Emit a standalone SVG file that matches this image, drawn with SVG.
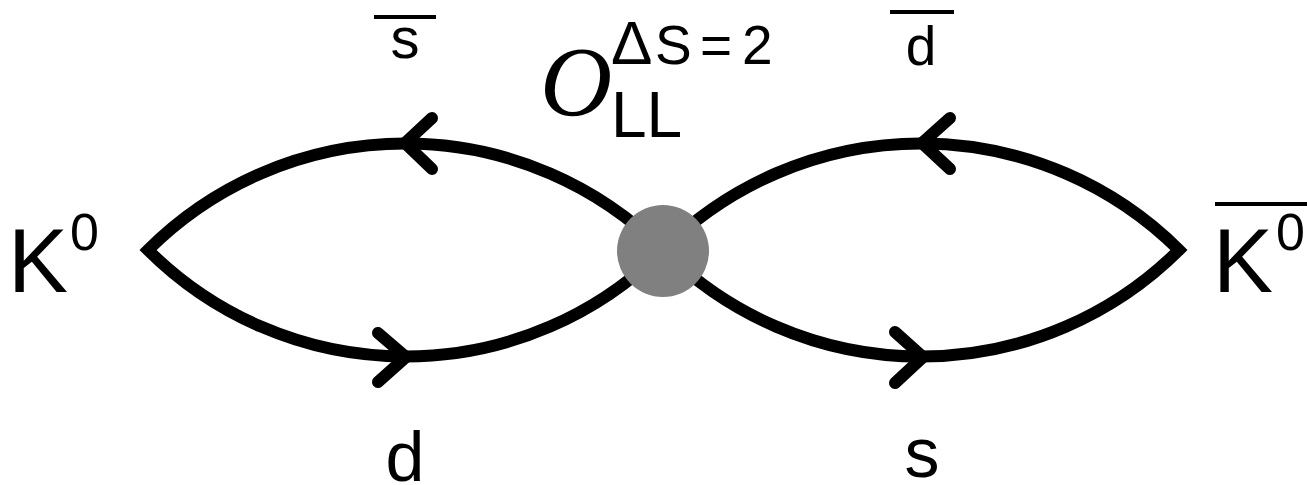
<svg xmlns="http://www.w3.org/2000/svg" width="1307" height="485" viewBox="0 0 1307 485">
  <style>
    .line { fill: none; stroke: #000; stroke-width: 12; stroke-linejoin: miter; stroke-miterlimit: 4; }
    .chev { fill: none; stroke: #000; stroke-width: 12; stroke-linecap: round; stroke-linejoin: miter; }
    .bar { stroke: #000; stroke-width: 4; }
    .lbl { font-family: "Liberation Sans", Arial, sans-serif; fill: #000; }
    .cal { font-family: "Liberation Serif", "Times New Roman", serif; font-style: italic; fill: #000; }
  </style>

  <!-- quark lines: two loops meeting at the four-quark vertex -->
  <g id="connectors">
    <path class="line" d="M663,250 A364.5,364.5 0 0 0 148,250 A364.5,364.5 0 0 0 663,250"/>
    <path class="line" d="M663,250 A365.7,365.7 0 0 1 1179,250 A365.7,365.7 0 0 1 663,250"/>
    <!-- direction arrows -->
    <path class="chev" d="M432,118 L405,143 L432,169"/>
    <path class="chev" d="M378,333 L406,357 L378,382"/>
    <path class="chev" d="M950,118 L922,143 L950,169"/>
    <path class="chev" d="M895,332 L923,357 L895,383"/>
  </g>

  <!-- operator vertex -->
  <g id="vertex">
    <circle cx="663" cy="251" r="46" fill="#808080"/>
    <text class="cal" x="540" y="115" font-size="100">O</text>
    <text class="lbl" y="64" font-size="55"><tspan x="611" font-size="62">Δ</tspan><tspan x="655">S</tspan><tspan x="700">=</tspan><tspan x="742">2</tspan></text>
    <text class="lbl" x="611" y="137" font-size="64">LL</text>
  </g>

  <!-- external mesons -->
  <g id="k0">
    <text class="lbl" x="8" y="292" font-size="90">K</text>
    <text class="lbl" x="70" y="250" font-size="52">0</text>
  </g>
  <g id="k0bar">
    <text class="lbl" x="1213" y="292" font-size="90">K</text>
    <text class="lbl" x="1276" y="250" font-size="52">0</text>
    <line class="bar" x1="1215" y1="204" x2="1307" y2="204"/>
  </g>

  <!-- quark labels -->
  <g id="sbar-top">
    <line class="bar" x1="374" y1="17" x2="436" y2="17"/>
    <text class="lbl" x="405" y="58" font-size="58" text-anchor="middle">s</text>
  </g>
  <g id="dbar-top">
    <line class="bar" x1="890" y1="12" x2="954" y2="12"/>
    <text class="lbl" x="921" y="65" font-size="55" text-anchor="middle">d</text>
  </g>
  <g id="d-bottom">
    <text class="lbl" x="405" y="481" font-size="70" text-anchor="middle">d</text>
  </g>
  <g id="s-bottom">
    <text class="lbl" x="922" y="477" font-size="70" text-anchor="middle">s</text>
  </g>
</svg>
